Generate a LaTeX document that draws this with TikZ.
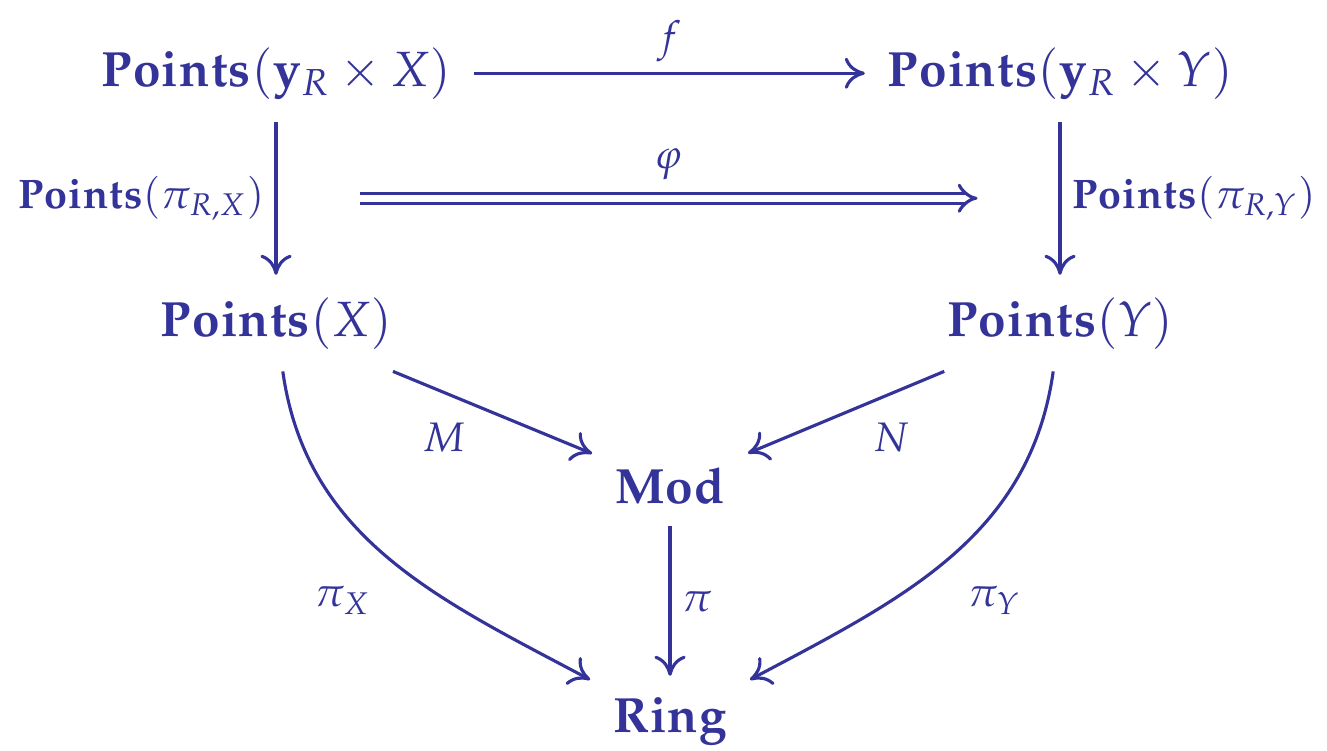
\documentclass[tikz,border=0pt]{standalone}
\usepackage{mathpazo}
\usetikzlibrary{arrows.meta,calc}
\definecolor{diagblue}{HTML}{333399}

\begin{document}
\begin{tikzpicture}

  % Set default styles
  \tikzset{
    every node/.style={text=diagblue},
    obj/.style={anchor=base, font=\fontsize{11.1}{13}\selectfont, inner sep=0.17cm},
    lbl/.style={font=\fontsize{9.25}{11}\selectfont, inner sep=0.08cm},
    map/.style={draw=diagblue, line width=0.7pt,
      -{Computer Modern Rightarrow[width=7pt,length=4.5pt]}},
    twomap/.style={draw=diagblue, double=white, double distance=1.5pt,
      line width=0.7pt, -{Implies}}
  }

  \useasboundingbox (0,0) rectangle (10.457,5.918);

  % Top row
  \node[obj] (ptsRX) at (2.175, 5.24) {$\mathbf{Points}(\mathbf{y}_R \times X)$};
  \node[obj] (ptsRY) at (8.353, 5.24) {$\mathbf{Points}(\mathbf{y}_R \times Y)$};

  % Middle row
  \node[obj] (ptsX) at (2.175, 3.27) {$\mathbf{Points}(X)$};
  \node[obj] (ptsY) at (8.353, 3.27) {$\mathbf{Points}(Y)$};

  % Modules and rings
  \node[obj] (mod) at (5.28, 1.954) {$\mathbf{Mod}$};
  \node[obj] (ring) at (5.28, 0.142) {$\mathbf{Ring}$};

  % Arrows
  \draw[map] (ptsRX) -- node[lbl, above] {$f$} (ptsRY);
  \draw[map] (ptsRX) -- node[lbl, left] {$\mathbf{Points}(\pi_{R,X})$} coordinate[midway] (leftmid) (ptsX);
  \draw[map] (ptsRY) -- node[lbl, right] {$\mathbf{Points}(\pi_{R,Y})$} coordinate[midway] (rightmid) (ptsY);
  \draw[twomap, shorten <=0.66cm, shorten >=0.65cm] (leftmid) -- node[lbl, above, yshift=0.05cm] {$\varphi$} (rightmid);

  \draw[map] (ptsX) -- node[lbl, pos=0.42, anchor=north east, yshift=-0.04cm] {$M$} (mod);
  \draw[map] (ptsY) -- node[lbl, pos=0.42, anchor=north west, yshift=-0.04cm] {$N$} (mod);
  \draw[map] (mod) -- node[lbl, right] {$\pi$} (ring);

  \draw[map] (ptsX) to[out=-82, in=152] node[lbl, pos=0.6, anchor=east, xshift=-0.33cm, yshift=-0.12cm] {$\pi_X$} (ring);
  \draw[map] (ptsY) to[out=-98, in=28] node[lbl, pos=0.6, anchor=west, xshift=0.33cm, yshift=-0.12cm] {$\pi_Y$} (ring);

\end{tikzpicture}
\end{document}
